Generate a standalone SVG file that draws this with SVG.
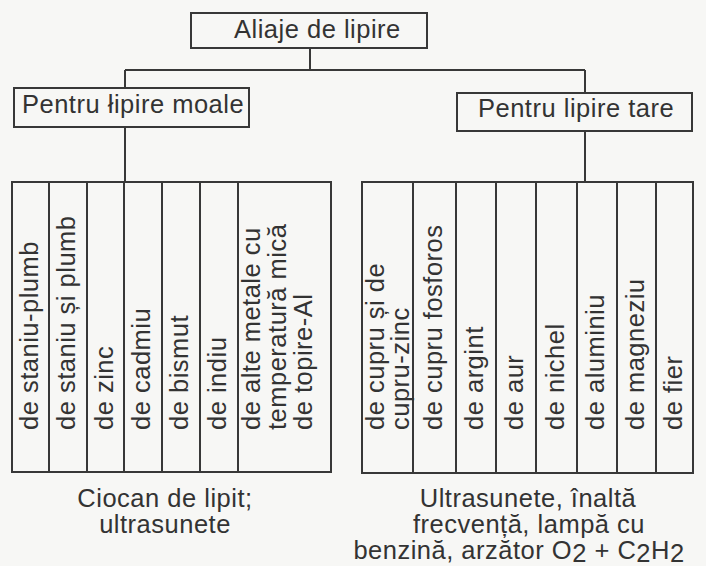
<svg xmlns="http://www.w3.org/2000/svg" width="706" height="566" viewBox="0 0 706 566">
<style>
.box{fill:none;stroke:#383838;stroke-width:2}
.ln{fill:none;stroke:#383838;stroke-width:2}
text{font-family:"Liberation Sans",Arial,sans-serif;font-size:25.5px;letter-spacing:0.5px;fill:#333}
.mid{text-anchor:middle}
</style>
<rect width="706" height="566" fill="#f7f7f5"/>
<g id="connectors">
<path class="ln" d="M310 48V70M125 70H585M125 70V88M585 70V93M125 127V182M585 131V182"/>
</g>
<g id="root">
<rect class="box" x="191" y="13" width="236" height="35"/>
<text x="234" y="38">Aliaje de lipire</text>
</g>
<g id="moale">
<rect class="box" x="14" y="88" width="235" height="39"/>
<text x="22" y="113">Pentru łipire moale</text>
</g>
<g id="tare">
<rect class="box" x="457" y="93" width="235" height="38"/>
<text x="478" y="117">Pentru lipire tare</text>
</g>
<g id="table-moale">
<rect class="box" x="12" y="182" width="319" height="290"/>
<path class="ln" d="M49 182V472M87 182V472M124 182V472M162 182V472M200 182V472M238 182V472"/>
<text transform="translate(38,430) rotate(-90)">de staniu-plumb</text>
<text transform="translate(75,430) rotate(-90)">de staniu și plumb</text>
<text transform="translate(113,430) rotate(-90)">de zinc</text>
<text transform="translate(150,430) rotate(-90)">de cadmiu</text>
<text transform="translate(188,430) rotate(-90)">de bismut</text>
<text transform="translate(226,430) rotate(-90)">de indiu</text>
<text transform="translate(260,430) rotate(-90)"><tspan x="0" y="0">de alte metale cu</tspan><tspan x="0" y="26">temperatură mică</tspan><tspan x="0" y="52">de topire-Al</tspan></text>
</g>
<g id="table-tare">
<rect class="box" x="362" y="182" width="331" height="291"/>
<path class="ln" d="M413 182V473M456 182V473M496 182V473M536 182V473M577 182V473M617 182V473M656 182V473"/>
<text transform="translate(384,430) rotate(-90)"><tspan x="0" y="0">de cupru și de</tspan><tspan x="0" y="25">cupru-zinc</tspan></text>
<text transform="translate(442,430) rotate(-90)">de cupru fosforos</text>
<text transform="translate(483,430) rotate(-90)">de argint</text>
<text transform="translate(523,430) rotate(-90)">de aur</text>
<text transform="translate(564,430) rotate(-90)">de nichel</text>
<text transform="translate(604,430) rotate(-90)">de aluminiu</text>
<text transform="translate(644,430) rotate(-90)">de magneziu</text>
<text transform="translate(682,430) rotate(-90)">de fier</text>
</g>
<g id="note-moale">
<text class="mid"><tspan x="165" y="507">Ciocan de lipit;</tspan><tspan x="165" y="533">ultrasunete</tspan></text>
</g>
<g id="note-tare">
<text class="mid"><tspan x="528" y="507">Ultrasunete, înaltă</tspan><tspan x="529" y="533">frecvență, lampă cu</tspan><tspan x="519" y="559">benzină, arzător O</tspan><tspan dy="3">2</tspan><tspan dy="-3"> + C</tspan><tspan dy="3">2</tspan><tspan dy="-3">H</tspan><tspan dy="3">2</tspan></text>
</g>
</svg>
